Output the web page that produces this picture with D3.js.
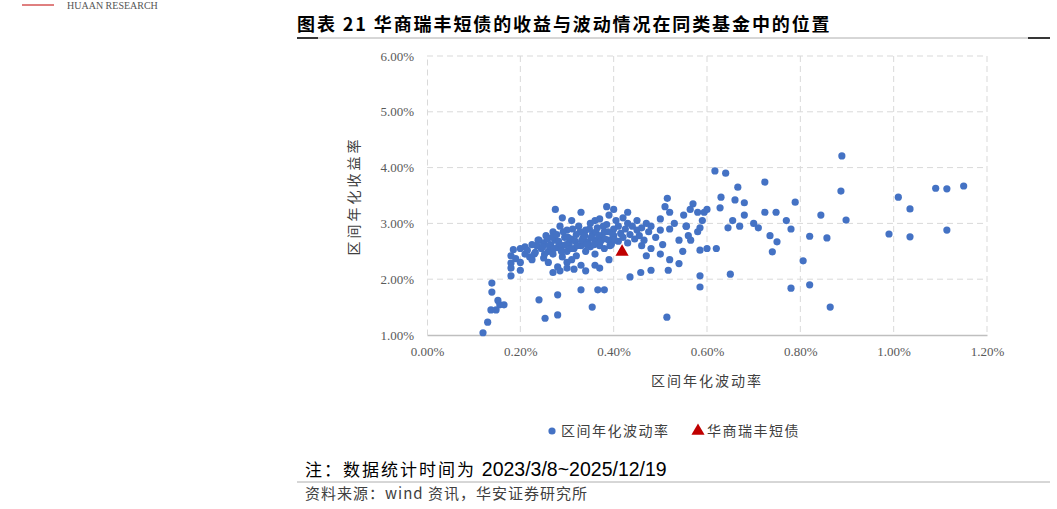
<!DOCTYPE html><html><head><meta charset="utf-8">
<script src="https://cdn.jsdelivr.net/npm/d3@7"></script>
<style>body{margin:0;background:#fff}svg{display:block}</style></head><body>
<script>
const xTicks=[0,0.2,0.4,0.6,0.8,1.0,1.2];
const yTicks=[1,2,3,4,5,6];
const seriesName="区间年化波动率";
const highlightName="华商瑞丰短债";
const highlight=[[0.418,2.49]];
// [volatility %, annualized return %]
const peers=[
[0.12,1.04],[0.13,1.23],[0.137,1.45],[0.148,1.45],[0.156,1.54],[0.165,1.54],[0.152,1.62],[0.139,1.77],[0.139,1.93],
[0.18,2.06],[0.18,2.2],[0.18,2.29],[0.18,2.42],[0.19,2.37],[0.2,2.55],[0.185,2.53],[0.21,2.58],[0.2,2.16],
[0.22,2.4],[0.225,2.35],[0.23,2.45],[0.235,2.6],[0.24,2.7],[0.245,2.55],[0.25,2.38],[0.25,2.65],[0.255,2.78],
[0.26,2.5],[0.26,2.3],[0.265,2.62],[0.27,2.85],[0.27,2.45],[0.275,2.7],[0.28,2.57],[0.28,2.22],[0.285,2.95],
[0.29,2.6],[0.29,2.4],[0.295,2.75],[0.3,2.88],[0.3,2.5],[0.3,2.3],[0.305,2.65],[0.31,3.05],[0.31,2.72],
[0.315,2.55],[0.32,2.8],[0.32,2.42],[0.325,2.95],[0.33,2.6],[0.33,2.25],[0.335,2.75],[0.34,2.88],[0.34,2.5],
[0.345,2.67],[0.35,3.0],[0.35,2.58],[0.355,2.82],[0.36,2.7],[0.36,2.45],[0.365,2.92],[0.37,2.6],[0.37,3.08],
[0.375,2.78],[0.38,2.85],[0.38,2.55],[0.385,2.98],[0.39,2.7],[0.39,3.15],[0.395,2.62],[0.4,2.9],[0.4,2.78],
[0.405,3.05],[0.41,2.68],[0.41,2.95],[0.415,2.82],[0.42,3.1],[0.42,2.75],[0.425,2.9],[0.43,2.65],[0.43,3.0],
[0.435,2.8],[0.44,2.95],[0.445,2.72],[0.45,2.88],[0.45,3.05],[0.455,2.78],[0.46,2.6],[0.46,2.92],[0.465,2.7],
[0.47,3.0],[0.475,2.85],[0.48,2.55],[0.48,2.95],[0.49,2.75],[0.5,2.88],[0.5,3.08],[0.505,2.62],[0.51,3.3],
[0.515,3.45],[0.52,3.2],[0.52,2.9],[0.53,3.0],[0.54,2.7],[0.55,3.15],[0.555,2.95],[0.56,2.78],[0.57,3.35],
[0.58,3.2],[0.58,2.85],[0.59,3.05],[0.6,3.25],[0.6,2.55],
[0.2,2.3],[0.21,2.45],[0.215,2.52],[0.225,2.62],[0.232,2.48],[0.238,2.7],[0.248,2.58],[0.252,2.45],[0.258,2.72],
[0.262,2.6],[0.268,2.75],[0.272,2.55],[0.278,2.8],[0.282,2.68],[0.288,2.5],[0.292,2.85],[0.298,2.62],[0.302,2.75],
[0.308,2.55],[0.312,2.9],[0.318,2.68],[0.322,2.6],[0.328,2.85],[0.332,2.7],[0.338,2.78],[0.342,2.62],[0.348,2.9],
[0.352,2.75],[0.358,2.62],[0.362,2.85],[0.368,2.78],[0.372,2.68],[0.378,2.95],[0.382,2.72],[0.388,2.85],[0.392,2.6],
[0.398,2.8],[0.402,2.7],[0.275,3.25],[0.29,3.1],[0.33,3.2],[0.36,3.05],[0.385,3.3],[0.4,3.25],[0.43,3.2],
[0.27,2.12],[0.285,2.15],[0.3,2.2],[0.315,2.18],[0.34,2.15],[0.36,2.25],[0.37,2.2],[0.39,2.35],[0.31,2.35],
[0.24,1.63],[0.253,1.3],[0.28,1.36],[0.28,1.72],[0.33,1.81],[0.366,1.81],[0.38,1.81],[0.354,1.5],[0.514,1.32],
[0.517,2.16],[0.48,2.16],[0.458,2.12],[0.435,2.04],[0.47,2.42],[0.5,2.45],[0.52,2.35],[0.548,2.5],[0.54,2.28],
[0.617,3.94],[0.64,3.9],[0.666,3.65],[0.63,3.47],[0.66,3.42],[0.68,3.37],[0.724,3.74],[0.748,3.2],[0.724,3.2],
[0.789,3.38],[0.889,4.21],[0.887,3.58],[0.898,3.06],[0.844,3.15],[0.82,2.77],[0.857,2.74],[0.806,2.33],[0.82,1.9],
[0.78,1.84],[0.864,1.5],[0.74,2.49],[0.75,2.67],[0.78,2.9],[0.645,2.92],[0.65,2.09],[0.585,2.52],[0.585,2.06],
[0.585,1.86],[0.585,2.92],[0.594,3.2],[0.564,3.25],[0.556,2.95],[0.565,2.7],[0.71,2.92],[0.7,3.0],[0.68,3.15],
[0.62,2.55],[0.67,2.95],[0.77,3.05],[0.99,2.81],[1.01,3.47],[1.035,3.26],[1.035,2.76],[1.09,3.63],[1.114,3.62],
[1.15,3.67],[1.114,2.88],[0.628,3.28],[0.655,3.05],[0.735,2.78]
];

const W=1057,H=509;
const svg=d3.select("body").append("svg").attr("width",W).attr("height",H);
const m={l:427,r:987,t:56,b:335};
const x=d3.scaleLinear().domain([0,1.2]).range([m.l,m.r]);
const y=d3.scaleLinear().domain([1,6]).range([m.b,m.t]);
const serif="'Liberation Serif','Times New Roman',serif";
const cjk="'Noto Sans CJK SC',sans-serif";

// header
svg.append("line").attr("x1",22).attr("x2",54).attr("y1",5).attr("y2",5).attr("stroke","#c00000").attr("stroke-width",1);
svg.append("text").attr("x",67).attr("y",9).attr("font-family",serif).attr("font-size",10).attr("fill","#555").text("HUAAN RESEARCH");
svg.append("text").attr("x",297).attr("y",31).attr("font-family",cjk).attr("font-size",18).attr("letter-spacing",1.9).attr("font-weight","bold").attr("fill","#000").text("图表 21 华商瑞丰短债的收益与波动情况在同类基金中的位置");
svg.append("line").attr("x1",297).attr("x2",1050).attr("y1",38).attr("y2",38).attr("stroke","#999").attr("stroke-width",0.8);
svg.append("line").attr("x1",297).attr("x2",318).attr("y1",38).attr("y2",38).attr("stroke","#000").attr("stroke-width",1.5);
svg.append("line").attr("x1",1028).attr("x2",1050).attr("y1",38).attr("y2",38).attr("stroke","#000").attr("stroke-width",1.5);

// grid
const g=svg.append("g");
g.selectAll(".vg").data(xTicks.slice(1)).join("line").attr("x1",d=>x(d)).attr("x2",d=>x(d)).attr("y1",m.t).attr("y2",m.b).attr("stroke","#d9d9d9").attr("stroke-dasharray","6,4");
g.selectAll(".hg").data(yTicks.slice(1)).join("line").attr("x1",m.l).attr("x2",m.r).attr("y1",d=>y(d)).attr("y2",d=>y(d)).attr("stroke","#d9d9d9").attr("stroke-dasharray","6,4");
// axes
const xa=svg.append("g").attr("transform",`translate(0,${m.b})`).call(d3.axisBottom(x).tickValues(xTicks).tickSize(0).tickPadding(12).tickFormat(d=>d.toFixed(2)+"%"));
xa.select(".domain").attr("stroke","#bfbfbf").attr("stroke-width",1.5);
const ya=svg.append("g").attr("transform",`translate(${m.l},0)`).call(d3.axisLeft(y).tickValues(yTicks).tickSize(0).tickPadding(13).tickFormat(d=>d.toFixed(2)+"%"));
ya.select(".domain").attr("stroke","#d9d9d9").attr("stroke-dasharray","6,4");
svg.selectAll(".tick text").attr("font-family",serif).attr("font-size",13).attr("fill","#595959");

svg.append("text").attr("x",707).attr("y",386).attr("text-anchor","middle").attr("font-family",cjk).attr("font-size",14).attr("letter-spacing",2).attr("fill","#404040").text("区间年化波动率");
svg.append("text").attr("transform","translate(359,196) rotate(-90)").attr("text-anchor","middle").attr("font-family",cjk).attr("font-size",14).attr("letter-spacing",3).attr("fill","#404040").text("区间年化收益率");

// points
svg.append("g").selectAll("circle").data(peers).join("circle").attr("cx",d=>x(d[0])).attr("cy",d=>y(d[1])).attr("r",3.6).attr("fill","#4472c4");
const tri=d3.symbol().type(d3.symbolTriangle).size(75);
svg.append("g").selectAll("path").data(highlight).join("path").attr("d",tri).attr("transform",d=>`translate(${x(d[0])},${y(d[1])})`).attr("fill","#c00000");

// legend
const lg=svg.append("g");
lg.append("circle").attr("cx",552).attr("cy",431).attr("r",3.6).attr("fill","#4472c4");
lg.append("text").attr("x",561).attr("y",436).attr("font-family",cjk).attr("font-size",14).attr("letter-spacing",1.5).attr("fill","#404040").text(seriesName);
lg.append("path").attr("d",tri).attr("transform","translate(698,431)").attr("fill","#c00000");
lg.append("text").attr("x",707).attr("y",436).attr("font-family",cjk).attr("font-size",14).attr("letter-spacing",1.5).attr("fill","#404040").text(highlightName);

// notes
const note=svg.append("text").attr("x",305).attr("y",476).attr("font-family",cjk).attr("font-size",17).attr("fill","#000");
note.append("tspan").attr("letter-spacing",2).text("注：数据统计时间为 ");
note.append("tspan").attr("font-family","'Liberation Sans',Arial,sans-serif").attr("font-size",19.5).text("2023/3/8~2025/12/19");
svg.append("line").attr("x1",297).attr("x2",1050).attr("y1",482).attr("y2",482).attr("stroke","#999").attr("stroke-width",0.8);
svg.append("text").attr("x",305).attr("y",499).attr("font-family",cjk).attr("font-size",15).attr("letter-spacing",1).attr("fill","#404040").text("资料来源：wind 资讯，华安证券研究所");
</script></body></html>
